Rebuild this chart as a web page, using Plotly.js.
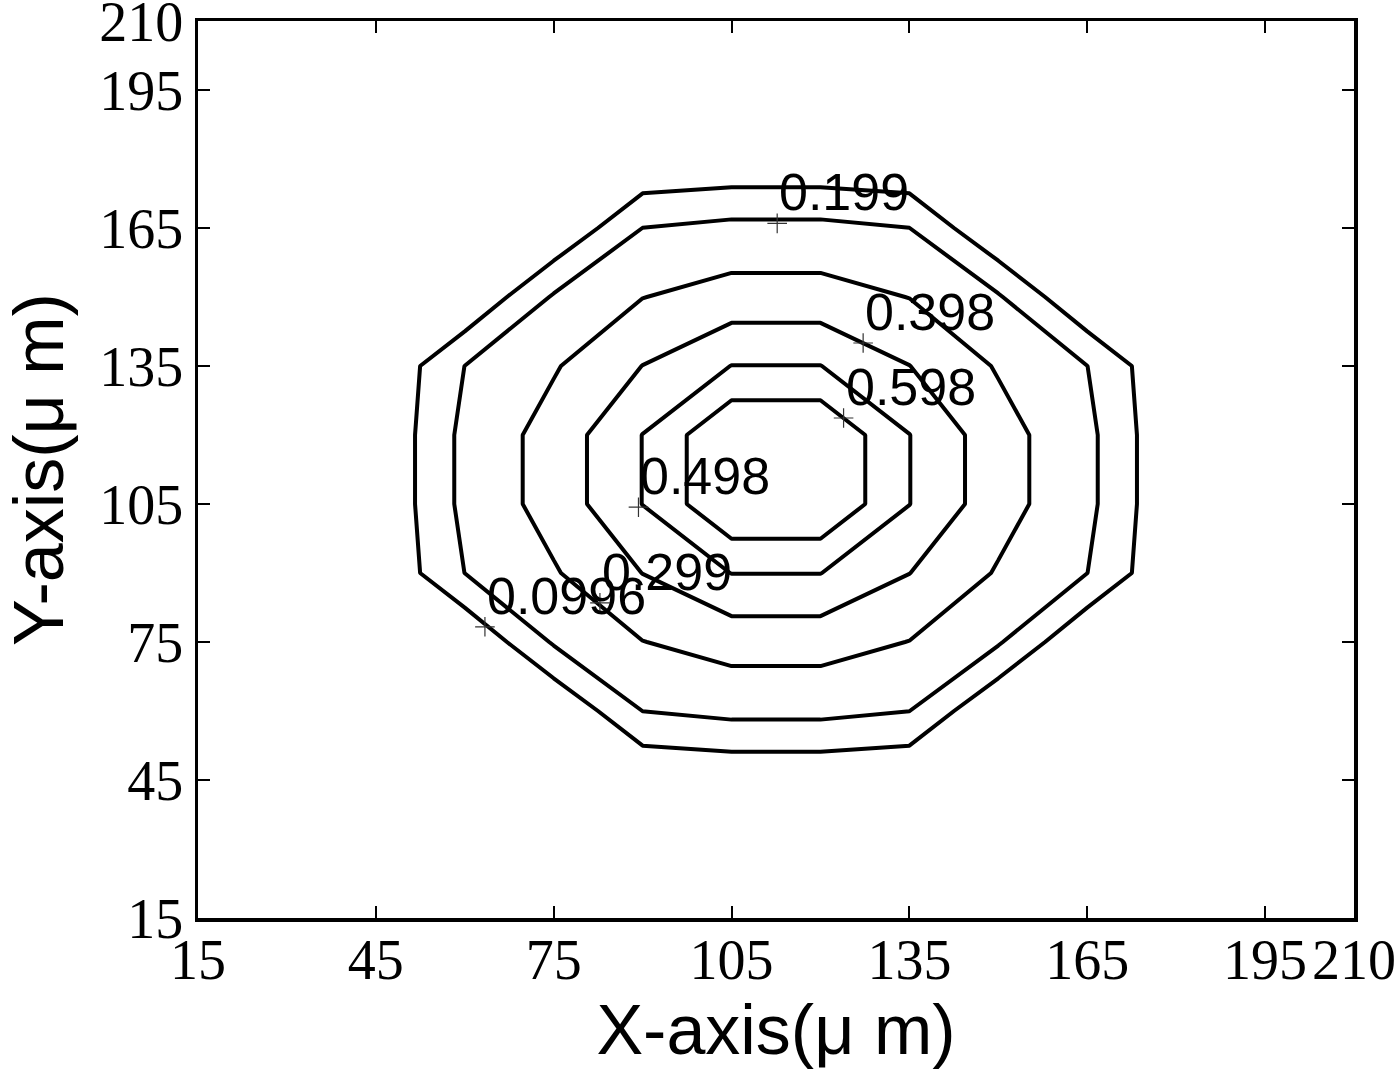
<!DOCTYPE html>
<html>
<head>
<meta charset="utf-8">
<script src="https://cdn.plot.ly/plotly-3.0.1.min.js"></script>
<style>
  body { margin: 0; background: #fff; }
  #myPlot { width: 1400px; height: 1071px; }
</style>
</head>
<body>
<div id="myPlot"></div>
<script>
// grid of the simulation (um)
const gridX = [15, 30, 45, 60, 75, 90, 105, 120, 135, 150, 165, 180, 195, 210];
const gridY = [15, 30, 45, 60, 75, 90, 105, 120, 135, 150, 165, 180, 195, 210];

const zGrid = [
  [0, 0, 0, 0, 0, 0, 0, 0, 0, 0, 0, 0, 0, 0],
  [0, 0, 0, 0, 0, 0, 0, 0, 0, 0, 0, 0, 0, 0],
  [0, 0, 0, 0, 0, 0, 0.012, 0.012, 0, 0, 0, 0, 0, 0],
  [0, 0, 0, 0, 0, 0.200, 0.226, 0.226, 0.200, 0, 0, 0, 0, 0],
  [0, 0, 0, 0, 0.210, 0.297, 0.338, 0.338, 0.297, 0.210, 0, 0, 0, 0],
  [0, 0, 0, 0.200, 0.290, 0.400, 0.500, 0.500, 0.400, 0.290, 0.200, 0, 0, 0],
  [0, 0, 0, 0.226, 0.338, 0.500, 0.6975, 0.6975, 0.500, 0.338, 0.226, 0, 0, 0],
  [0, 0, 0, 0.226, 0.338, 0.500, 0.6975, 0.6975, 0.500, 0.338, 0.226, 0, 0, 0],
  [0, 0, 0, 0.200, 0.290, 0.400, 0.500, 0.500, 0.400, 0.290, 0.200, 0, 0, 0],
  [0, 0, 0, 0, 0.210, 0.297, 0.338, 0.338, 0.297, 0.210, 0, 0, 0, 0],
  [0, 0, 0, 0, 0, 0.200, 0.226, 0.226, 0.200, 0, 0, 0, 0, 0],
  [0, 0, 0, 0, 0, 0, 0.012, 0.012, 0, 0, 0, 0, 0, 0],
  [0, 0, 0, 0, 0, 0, 0, 0, 0, 0, 0, 0, 0, 0],
  [0, 0, 0, 0, 0, 0, 0, 0, 0, 0, 0, 0, 0, 0]
];

const levels = [0.0996, 0.199, 0.299, 0.398, 0.498, 0.598];

// clabel positions
const labelText = ["0.199", "0.398", "0.598", "0.498", "0.299", "0.0996"];
const labelX = [112.7, 127.2, 123.9, 89.3, 82.8, 63.4];
const labelY = [166.0, 140.0, 123.7, 104.3, 83.5, 78.3];

const tickVals = [15, 45, 75, 105, 135, 165, 195, 210];
const tickText = ["15", "45", "75", "105", "135", "165", "195", "210"];

const data = [
  {
    type: "contour",
    x: gridX,
    y: gridY,
    z: zGrid,
    showscale: false,
    hoverinfo: "skip",
    contours: {
      coloring: "none",
      start: levels[0],
      end: levels[levels.length - 1],
      size: (levels[levels.length - 1] - levels[0]) / (levels.length - 1),
      showlabels: false
    },
    line: {color: "black", width: 4, smoothing: 0}
  },
  {
    type: "scatter",
    mode: "markers",
    x: labelX,
    y: labelY,
    hoverinfo: "skip",
    marker: {symbol: "cross-thin", size: 14, line: {width: 1.2, color: "#333"}}
  }
];

const annotations = labelText.map((t, i) => ({
  x: labelX[i],
  y: labelY[i],
  text: t,
  showarrow: false,
  xanchor: "left",
  yanchor: "bottom",
  font: {family: "Liberation Sans, Arial, sans-serif", size: 52, color: "black"}
}));

const axisCommon = {
  range: [15, 210],
  tickmode: "array",
  tickvals: tickVals,
  ticktext: tickText,
  ticks: "inside",
  ticklen: 12,
  tickwidth: 2,
  tickcolor: "black",
  showline: true,
  linewidth: 3.5,
  linecolor: "black",
  mirror: "ticks",
  showgrid: false,
  zeroline: false,
  tickangle: 0,
  tickfont: {family: "Liberation Serif, Times New Roman, serif", size: 56, color: "black"}
};

const layout = {
  width: 1400,
  height: 1071,
  margin: {l: 198, r: 46, t: 21, b: 153, pad: 0},
  paper_bgcolor: "white",
  plot_bgcolor: "white",
  showlegend: false,
  xaxis: Object.assign({}, axisCommon, {
    ticklabelstandoff: -10,
    title: {text: "X-axis(μ m)", standoff: 8,
      font: {family: "Liberation Sans, Arial, sans-serif", size: 70, color: "black"}}
  }),
  yaxis: Object.assign({}, axisCommon, {
    title: {text: "Y-axis(μ m)", standoff: 16,
      font: {family: "Liberation Sans, Arial, sans-serif", size: 70, color: "black"}}
  }),
  annotations: annotations
};

Plotly.newPlot("myPlot", data, layout, {displayModeBar: false, staticPlot: true});
</script>
</body>
</html>
